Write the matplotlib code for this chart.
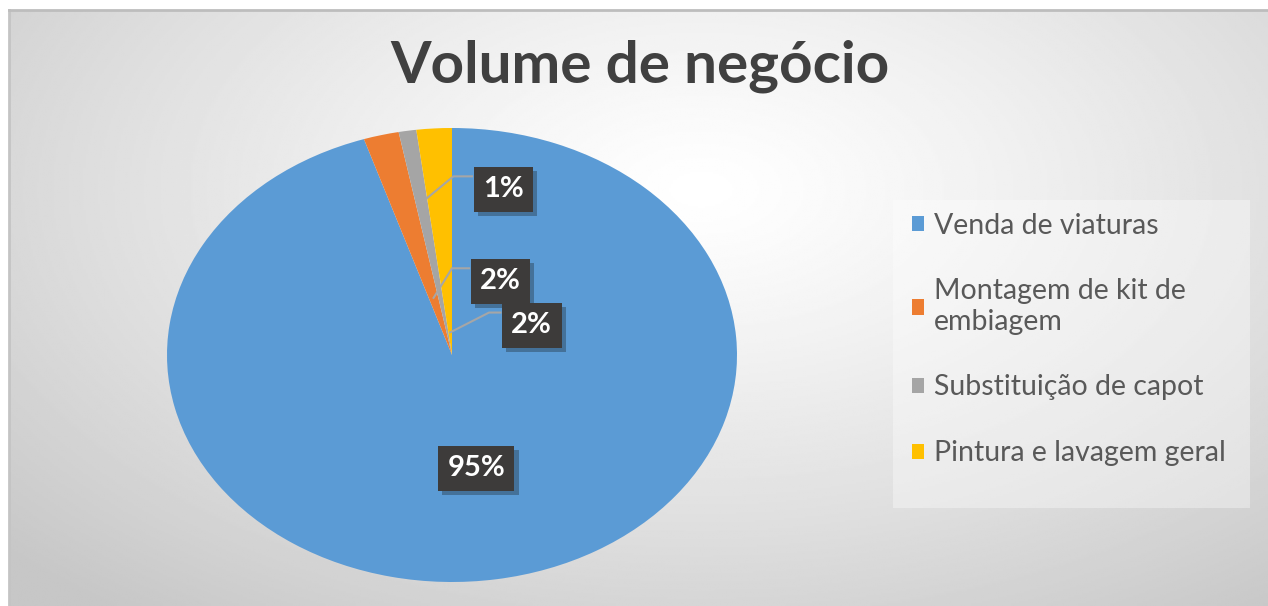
import numpy as np
import matplotlib.pyplot as plt
import matplotlib.patheffects as pe
from matplotlib.patches import Rectangle

# dados
categorias = ['Venda de viaturas', 'Montagem de kit de\nembiagem',
              'Substituição de capot', 'Pintura e lavagem geral']
valores = [95, 2, 1, 2]
rotulos = ['95%', '2%', '1%', '2%']
cores = ['#5b9bd5', '#ed7d31', '#a5a5a5', '#ffc000']

# posicao dos rotulos (coords do eixo) e raio do ponto de ligacao
pos_rotulos = [(0.085, -0.50), (0.17, 0.325), (0.18, 0.73), (0.28, 0.13)]
raio_ligacao = [None, 0.26, 0.68, 0.10]
cotovelo = [0, 0.06, 0.065, 0.04]

plt.rcParams['font.family'] = ['Lato', 'DejaVu Sans']

fig = plt.figure(figsize=(12.68, 6.06), dpi=100)
fig.patch.set_facecolor('white')

# fundo em gradiente
bg = fig.add_axes([9/1268, 0, 1 - 9/1268, 1 - 10/606])
yy, xx = np.mgrid[0:1:300j, 0:1:600j]
d = np.sqrt(((xx - 0.55) / 0.75)**2 + ((yy - 0.3) / 0.9)**2)
g = np.clip(1 - 0.22 * d**1.2, 0.78, 1)
bg.imshow(g, cmap='gray', vmin=0, vmax=1, aspect='auto', extent=[0, 1, 1, 0])
bg.set_xticks([]); bg.set_yticks([])
for s in ['right', 'bottom']:
    bg.spines[s].set_visible(False)
bg.spines['top'].set_color('#bdbdbd'); bg.spines['top'].set_linewidth(2)
bg.spines['left'].set_color('#c4c4c4'); bg.spines['left'].set_linewidth(2)

# painel da legenda
fig.patches.append(Rectangle((893 / 1268, 1 - 508 / 606), 357 / 1268, 308 / 606,
                             transform=fig.transFigure, fc='white', alpha=0.35,
                             ec='none', zorder=0.5))

# pizza (eliptica como na imagem)
ax = fig.add_axes([(452 - 285) / 1268, (606 - 582) / 606, 570 / 1268, 454 / 606])
wedges, _ = ax.pie(valores, colors=cores, startangle=90, counterclock=False,
                   radius=1, wedgeprops=dict(linewidth=0))
ax.set_xlim(-1, 1); ax.set_ylim(-1, 1); ax.set_aspect('auto')
ax.patch.set_visible(False)

for i, w in enumerate(wedges):
    x, y = pos_rotulos[i]
    t = ax.text(x, y, rotulos[i], ha='center', va='center', color='white',
                fontsize=21, fontweight='bold',
                bbox=dict(boxstyle='square,pad=0.32', fc='#3d3b3a', ec='none'))
    t.get_bbox_patch().set_path_effects(
        [pe.SimplePatchShadow(offset=(3, -3), alpha=0.3), pe.Normal()])
    if raio_ligacao[i] is not None:
        ang = np.deg2rad((w.theta1 + w.theta2) / 2)
        r = raio_ligacao[i]
        ax0, ay0 = r * np.cos(ang), r * np.sin(ang)
        bx = x - 0.11
        by = y + 0.057
        ax.plot([ax0, bx - cotovelo[i], bx], [ay0, by, by], color='#a6a6a6',
                lw=1.5, zorder=1.5)

fig.text(0.505, 0.89, 'Volume de negócio', ha='center', va='center',
         fontsize=42, fontweight='bold', color='#404040')

leg = fig.legend(wedges, categorias, loc='upper left',
                 bbox_to_anchor=(903 / 1268, 1 - 204 / 606), borderaxespad=0,
                 fontsize=20.5, labelcolor='#595959', frameon=False,
                 handlelength=0.45, handleheight=0.45, handletextpad=0.35,
                 labelspacing=1.4, borderpad=0.3)

fig.savefig('out.png', dpi=100)
